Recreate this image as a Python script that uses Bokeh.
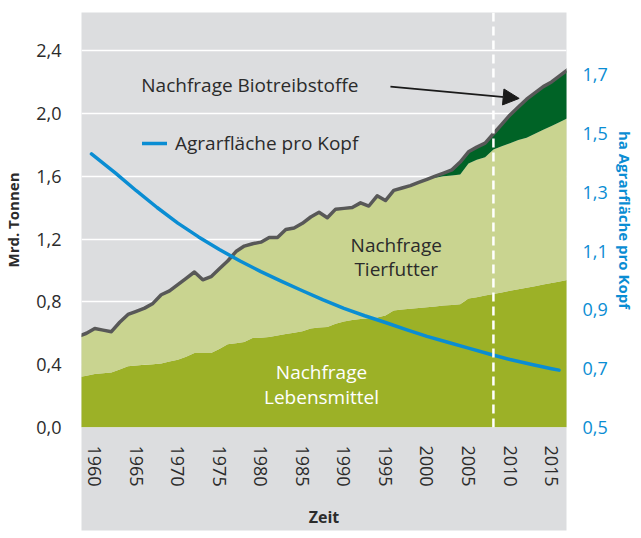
from bokeh.plotting import figure
from bokeh.models import (Range1d, LinearAxis, FixedTicker, Span, Label, Arrow,
                          NormalHead, Legend, LegendItem, ColumnDataSource)
from bokeh.embed import file_html
from bokeh.resources import INLINE

# ---------------- data ----------------
years = list(range(1958, 2018))
# upper edge of "Nachfrage Lebensmittel" (Mrd. t)
food = [0.32, 0.33, 0.34, 0.345, 0.35, 0.37, 0.39, 0.395, 0.40, 0.403,
        0.407, 0.42, 0.432, 0.45, 0.474, 0.474, 0.474, 0.50, 0.53, 0.537,
        0.545, 0.57, 0.572, 0.576, 0.585, 0.595, 0.603, 0.612, 0.63, 0.637,
        0.64, 0.66, 0.675, 0.684, 0.69, 0.695, 0.70, 0.713, 0.745, 0.752,
        0.756, 0.76, 0.765, 0.77, 0.776, 0.78, 0.785, 0.822, 0.83, 0.84,
        0.85, 0.86, 0.87, 0.88, 0.89, 0.90, 0.91, 0.92, 0.93, 0.94]
# upper edge of "Nachfrage Tierfutter" (food + feed)
food_feed = [0.58, 0.60, 0.63, 0.62, 0.61, 0.67, 0.72, 0.74, 0.76, 0.79,
             0.845, 0.87, 0.91, 0.95, 0.99, 0.94, 0.96, 1.01, 1.06, 1.12,
             1.155, 1.17, 1.18, 1.21, 1.21, 1.26, 1.27, 1.30, 1.34, 1.37,
             1.335, 1.39, 1.395, 1.40, 1.43, 1.41, 1.475, 1.445, 1.51, 1.525,
             1.54, 1.56, 1.58, 1.59, 1.60, 1.605, 1.61, 1.68, 1.705, 1.72,
             1.77, 1.79, 1.81, 1.83, 1.845, 1.87, 1.895, 1.92, 1.945, 1.97]
# total demand incl. "Nachfrage Biotreibstoffe"
total = [0.58, 0.60, 0.63, 0.62, 0.61, 0.67, 0.72, 0.74, 0.76, 0.79,
         0.845, 0.87, 0.91, 0.95, 0.99, 0.94, 0.96, 1.01, 1.06, 1.12,
         1.155, 1.17, 1.18, 1.21, 1.21, 1.26, 1.27, 1.30, 1.34, 1.37,
         1.335, 1.39, 1.395, 1.40, 1.43, 1.41, 1.475, 1.445, 1.51, 1.525,
         1.54, 1.56, 1.58, 1.60, 1.62, 1.64, 1.69, 1.755, 1.785, 1.81,
         1.87, 1.93, 1.99, 2.04, 2.09, 2.13, 2.17, 2.20, 2.24, 2.28]
# Agrarfläche pro Kopf (ha), right axis
area_years = [1959.6, 1962.5, 1965, 1967.5, 1970, 1972.5, 1975, 1977.5, 1980,
              1982.5, 1985, 1987.5, 1990, 1992.5, 1995, 1997.5, 2000, 2002.5,
              2005, 2007.5, 2010, 2012.5, 2015, 2015.9]
area_per_capita = [1.43, 1.365, 1.305, 1.248, 1.195, 1.148, 1.105, 1.066, 1.03,
                   0.997, 0.965, 0.934, 0.905, 0.88, 0.857, 0.833, 0.81, 0.79,
                   0.77, 0.75, 0.731, 0.715, 0.70, 0.695]

marker_year = 2008
x_ticks = [1960, 1965, 1970, 1975, 1980, 1985, 1990, 1995, 2000, 2005, 2010, 2015]
left_ticks = [0.0, 0.4, 0.8, 1.2, 1.6, 2.0, 2.4]
left_labels = ["0,0", "0,4", "0,8", "1,2", "1,6", "2,0", "2,4"]
right_ticks = [0.5, 0.7, 0.9, 1.1, 1.3, 1.5, 1.7]
right_labels = ["0,5", "0,7", "0,9", "1,1", "1,3", "1,5", "1,7"]

# ---------------- style ----------------
FONT = "Open Sans"
BG = "#DCDDDF"
OLIVE = "#9CB127"
LIGHT = "#C9D490"
DARK = "#006326"
BLUE = "#0A8DD3"
LINE = "#585858"
TXT = "#2B2B2B"

p = figure(frame_width=485, frame_height=415, output_backend="svg",
           toolbar_location=None, x_range=Range1d(1958.4, 2016.8),
           y_range=Range1d(0, 2.642), min_border_left=77, min_border_right=56,
           min_border_top=12, min_border_bottom=104,
           background_fill_color=BG, border_fill_color="white",
           outline_line_color=None)
p.extra_y_ranges = {"ha": Range1d(0.5, 1.911)}

src = ColumnDataSource(dict(year=years, food=food, food_feed=food_feed, total=total))
p.varea(x="year", y1=0, y2="food", source=src, fill_color=OLIVE)
p.varea(x="year", y1="food", y2="food_feed", source=src, fill_color=LIGHT)
p.varea(x="year", y1="food_feed", y2="total", source=src, fill_color=DARK)
p.line(x="year", y="total", source=src, line_color=LINE, line_width=3.5,
       line_join="round")

blue = p.line(area_years, area_per_capita, y_range_name="ha", line_color=BLUE,
              line_width=3.5, line_join="round", line_cap="round")

p.add_layout(Span(location=marker_year, dimension="height", line_color="white",
                  line_width=2.5, line_dash="9 5"))

# axes
p.xaxis.ticker = FixedTicker(ticks=x_ticks)
p.xaxis.major_label_orientation = "vertical"
p.xaxis.axis_label = "Zeit"
p.xaxis.background_fill_color = BG
p.yaxis.ticker = FixedTicker(ticks=left_ticks)
p.yaxis.major_label_overrides = dict(zip(left_ticks, left_labels))
p.yaxis.axis_label = "Mrd. Tonnen"

ax_r = LinearAxis(y_range_name="ha", ticker=FixedTicker(ticks=right_ticks),
                  major_label_overrides=dict(zip(right_ticks, right_labels)),
                  axis_label="ha Agrarfläche pro Kopf")
p.add_layout(ax_r, "right")

for ax in [p.xaxis[0], p.yaxis[0], ax_r]:
    ax.axis_line_color = None
    ax.major_tick_line_color = None
    ax.minor_tick_line_color = None
    ax.major_label_text_font = FONT
    ax.major_label_text_font_size = "18px"
    ax.major_label_text_color = TXT
    ax.axis_label_text_font = FONT
    ax.axis_label_text_font_size = "15px"
    ax.axis_label_text_font_style = "bold"
    ax.axis_label_text_color = TXT
p.xaxis.major_label_standoff = 12
p.xaxis.axis_label_standoff = 16
p.xaxis.axis_label_text_font_size = "16px"
p.yaxis.major_label_standoff = 14
p.yaxis.axis_label_standoff = 10
ax_r.major_label_standoff = 10
ax_r.axis_label_standoff = 4
ax_r.major_label_text_color = BLUE
ax_r.axis_label_text_color = BLUE

p.xgrid.grid_line_color = None
p.ygrid.grid_line_color = "white"
p.ygrid.grid_line_width = 1.5
p.ygrid.ticker = FixedTicker(ticks=left_ticks)

# annotations
p.add_layout(Label(x=1965.6, y=2.183, text="Nachfrage Biotreibstoffe",
                   text_font=FONT, text_font_size="19px", text_color=TXT,
                   text_baseline="middle", text_align="left"))
p.add_layout(Arrow(x_start=1995.6, y_start=2.17, x_end=2011.1, y_end=2.095,
                   line_color="#1A1A1A", line_width=1.8,
                   end=NormalHead(size=16, fill_color="#1A1A1A",
                                  line_color="#1A1A1A")))
p.add_layout(Label(x=1996.3, y=1.085, text="Nachfrage\nTierfutter",
                   text_font=FONT, text_font_size="19px", text_color=TXT,
                   text_baseline="middle", text_align="center",
                   text_line_height=0.95))
p.add_layout(Label(x=1987.3, y=0.274, text="Nachfrage\nLebensmittel",
                   text_font=FONT, text_font_size="19px", text_color="white",
                   text_baseline="middle", text_align="center",
                   text_line_height=0.95))

legend = Legend(items=[LegendItem(label="Agrarfläche pro Kopf", renderers=[blue])],
                location=(61, 271), background_fill_alpha=0,
                border_line_alpha=0, label_text_font=FONT,
                label_text_font_size="19px", label_text_color=TXT,
                glyph_width=25, label_standoff=8, padding=0, margin=0)
p.add_layout(legend)

open("out.html", "w").write(file_html(p, INLINE))
